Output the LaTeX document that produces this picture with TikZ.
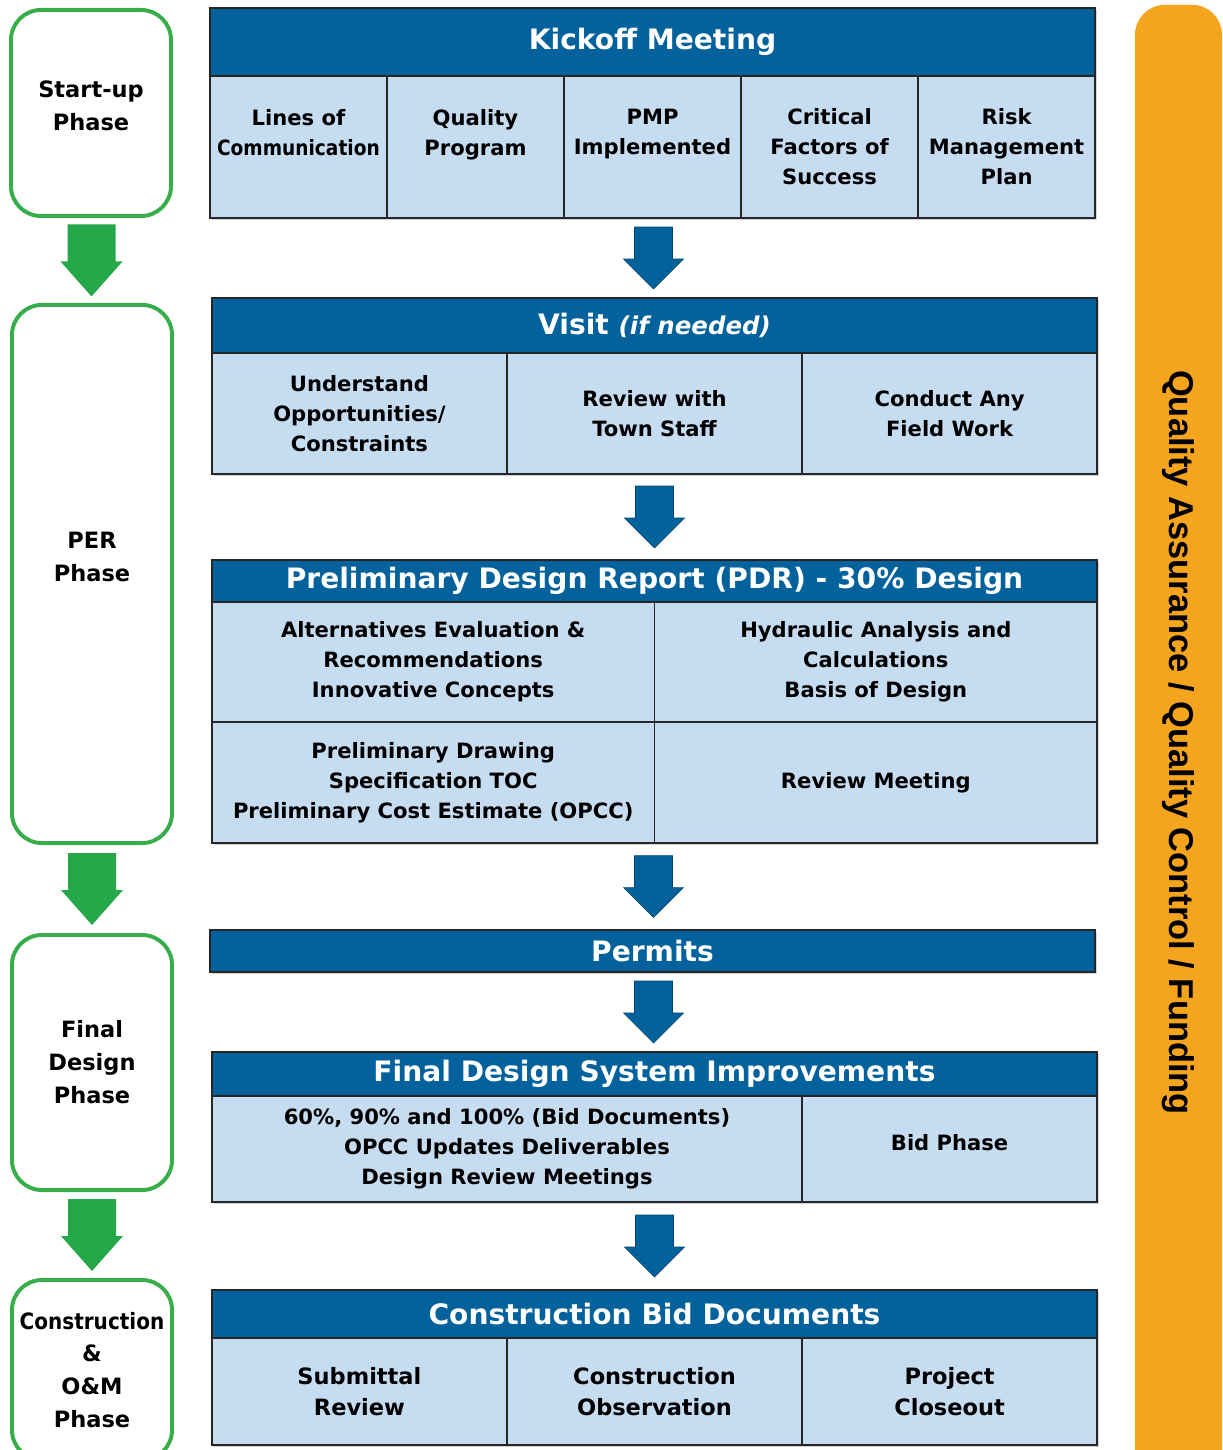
\documentclass[tikz,border=0pt]{standalone}
\usepackage{fontspec}
\setmainfont{DejaVu Sans}
\newfontfamily\qafont{Liberation Sans}
\usetikzlibrary{positioning,calc,shadows}
\definecolor{hdrblue}{HTML}{03629C}
\definecolor{cellblue}{HTML}{C6DCF1}
\definecolor{phasegreen}{HTML}{38AE4A}
\definecolor{arrowgreen}{HTML}{25A84A}
\definecolor{qaorange}{HTML}{F5A41E}
\tikzset{
  hdr/.style={draw=black!85,line width=1.3pt,fill=hdrblue,text=white,inner sep=0pt,outer sep=0pt,
    minimum width=22.125cm,font=\fontsize{20}{24}\selectfont\bfseries,
    drop shadow={shadow xshift=1.5pt,shadow yshift=-1.5pt,opacity=.35}},
  cell/.style={draw=black!85,line width=1.3pt,fill=cellblue,align=center,inner sep=0pt,outer sep=0pt,
    font=\fontsize{15}{21.3}\selectfont\bfseries,
    drop shadow={shadow xshift=1.5pt,shadow yshift=-1.5pt,opacity=.35}},
  phase/.style={draw=phasegreen,line width=2.8pt,rounded corners=0.75cm,fill=white,align=center,
    minimum width=4cm,inner sep=0pt,font=\fontsize{16}{23.4}\selectfont\bfseries},
  qabar/.style={fill=qaorange,rounded corners=0.75cm,inner sep=0pt,
    font=\qafont\fontsize{24.5}{28}\selectfont\bfseries},
  blue arrow/.style={fill=hdrblue,draw=hdrblue!70!black,line width=0.4pt},
  green arrow/.style={fill=arrowgreen}
}
% fat arrow centred between two nodes: style, from, to, shaft half, head half, half length
\newcommand{\fatarrow}[6]{%
  \begin{scope}[shift={($(#2)!0.5!(#3)$)}]
    \path[#1] (-#4,-#6) -- (#4,-#6) -- (#4,1) -- (#5,1) -- (0,#6) -- (-#5,1) -- (-#4,1) -- cycle;
  \end{scope}}

\begin{document}
\begin{tikzpicture}[x=0.025cm,y=-0.025cm]
  \useasboundingbox (0,0) rectangle (1222,1450);

  % quality bar
  \node[qabar,rotate=-90,minimum width=36.875cm,minimum height=2.175cm] (qa) at (1178.5,742.5)
    {Quality Assurance / Quality Control / Funding};

  % phases
  \node[phase,minimum height=5.15cm,text depth=0.35cm] (startup) at (91,113) {Start-up\\Phase};
  \node[phase,minimum height=13.45cm,text depth=0.85cm] (per) at (92,574) {PER\\Phase};
  \node[phase,minimum height=6.375cm] (final) at (92,1062.5) {Final\\Design\\Phase};
  \node[phase,minimum height=4.5cm] (om) at (92,1370)
    {\scalebox{.89}[1]{Construction}\\\&\\O\&M\\Phase};

  \fatarrow{green arrow}{startup.south}{per.north}{24}{31}{36}
  \fatarrow{green arrow}{per.south}{final.north}{24}{31}{36}
  \fatarrow{green arrow}{final.south}{om.north}{24}{31}{36}

  % kickoff
  \node[hdr,minimum height=1.7cm] (kick) at (652.5,42) {Kickoff Meeting};
  \node[cell,minimum width=4.425cm,minimum height=3.55cm,below right=0pt and 0pt of kick.south west] (lines)
    {Lines of\\\scalebox{.88}[1]{Communication}\\\mbox{}};
  \node[cell,minimum width=4.425cm,minimum height=3.55cm,right=0pt of lines] (quality) {Quality\\Program\\\mbox{}};
  \node[cell,minimum width=4.425cm,minimum height=3.55cm,right=0pt of quality] (pmp) {PMP\\Implemented\\\mbox{}};
  \node[cell,minimum width=4.425cm,minimum height=3.55cm,right=0pt of pmp] (critical) {Critical\\Factors of\\Success};
  \node[cell,minimum width=4.425cm,minimum height=3.55cm,right=0pt of critical] (risk) {Risk\\Management\\Plan};

  % visit
  \node[hdr,minimum height=1.375cm] (visit) at (654.5,325.5)
    {Visit {\fontsize{17.4}{20}\selectfont\itshape (if needed)}};
  \node[cell,minimum width=7.375cm,minimum height=3.025cm,below right=0pt and 0pt of visit.south west] (understand)
    {Understand\\Opportunities/\\Constraints};
  \node[cell,minimum width=7.375cm,minimum height=3.025cm,right=0pt of understand] (review) {Review with\\Town Staff};
  \node[cell,minimum width=7.375cm,minimum height=3.025cm,right=0pt of review] (field) {Conduct Any\\Field Work};

  \fatarrow{blue arrow}{pmp.south}{visit.north}{19}{30}{31}

  % preliminary design report
  \node[hdr,minimum height=1.05cm] (pdr) at (654.5,581) {Preliminary Design Report (PDR) - 30\% Design};
  \node[cell,minimum width=11.0625cm,minimum height=3.0cm,below right=0pt and 0pt of pdr.south west] (alternatives)
    {Alternatives Evaluation \&\\Recommendations\\Innovative Concepts};
  \node[cell,minimum width=11.0625cm,minimum height=3.0cm,right=0pt of alternatives] (hydraulic)
    {Hydraulic Analysis and\\Calculations\\Basis of Design};
  \node[cell,minimum width=11.0625cm,minimum height=3.025cm,below=0pt of alternatives] (drawing)
    {Preliminary Drawing\\Specification TOC\\Preliminary Cost Estimate (OPCC)};
  \node[cell,minimum width=11.0625cm,minimum height=3.025cm,right=0pt of drawing] (meeting) {Review Meeting};

  \fatarrow{blue arrow}{review.south}{pdr.north}{19}{30}{31}

  % permits
  \node[hdr,minimum height=1.05cm] (permits) at (652.5,951) {Permits};
  \fatarrow{blue arrow}{pdr |- drawing.south}{permits.north}{19}{30}{31}

  % final design
  \node[hdr,minimum height=1.1cm] (fds) at (654.5,1074) {Final Design System Improvements};
  \node[cell,minimum width=14.75cm,minimum height=2.65cm,below right=0pt and 0pt of fds.south west] (docs)
    {60\%, 90\% and 100\% (Bid Documents)\\OPCC Updates Deliverables\\Design Review Meetings};
  \node[cell,minimum width=7.375cm,minimum height=2.65cm,text depth=0.35cm,right=0pt of docs] (bid) {Bid Phase};

  \fatarrow{blue arrow}{permits.south}{fds.north}{19}{30}{31}

  % construction bid documents
  \node[hdr,minimum height=1.2cm] (cbd) at (654.5,1314) {Construction Bid Documents};
  \node[cell,minimum width=7.375cm,minimum height=2.675cm,font=\fontsize{16}{22}\selectfont\bfseries,
    below right=0pt and 0pt of cbd.south west] (submittal) {Submittal\\Review};
  \node[cell,minimum width=7.375cm,minimum height=2.675cm,font=\fontsize{16}{22}\selectfont\bfseries,
    right=0pt of submittal] (observation) {Construction\\Observation};
  \node[cell,minimum width=7.375cm,minimum height=2.675cm,font=\fontsize{16}{22}\selectfont\bfseries,
    right=0pt of observation] (closeout) {Project\\Closeout};

  \fatarrow{blue arrow}{fds |- docs.south}{cbd.north}{19}{30}{31}
\end{tikzpicture}
\end{document}
